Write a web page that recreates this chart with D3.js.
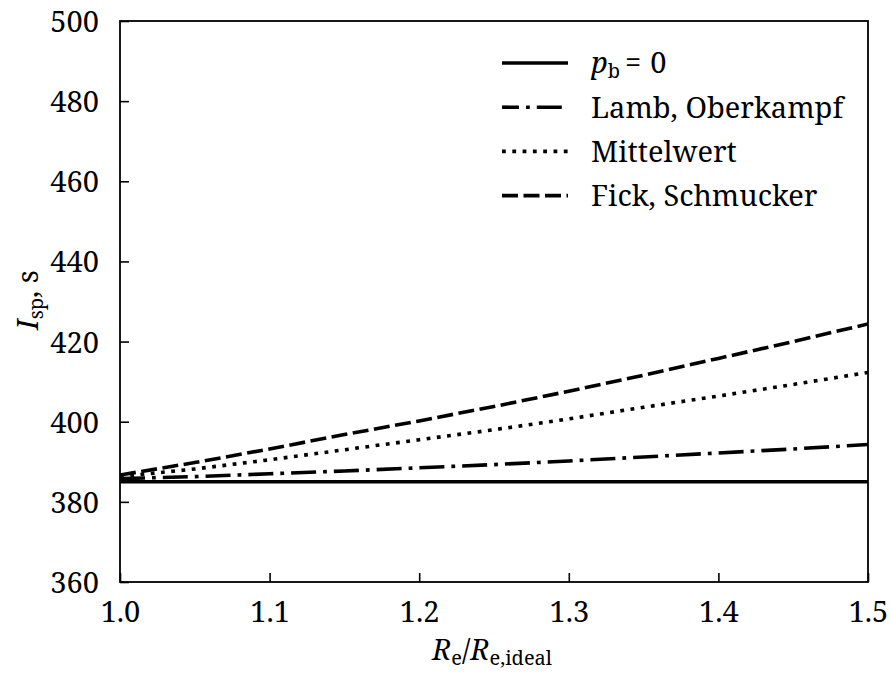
<!DOCTYPE html>
<html>
<head>
<meta charset="utf-8">
<script src="https://cdn.jsdelivr.net/npm/d3@7"></script>
<style>
  html, body { margin: 0; padding: 0; background: #fff; }
</style>
</head>
<body>
<svg id="chart" width="891" height="675"></svg>
<script>
// Area ratio R_e / R_e,ideal
const ratio = [1.00, 1.05, 1.10, 1.15, 1.20, 1.25, 1.30, 1.35, 1.40, 1.45, 1.50];

// Specific impulse (s) for each base-pressure model
const ispNoBase   = [385.0, 385.0, 385.0, 385.0, 385.0, 385.0, 385.0, 385.0, 385.0, 385.0, 385.0];
const ispLamb     = [385.8, 386.3, 387.0, 387.7, 388.5, 389.3, 390.2, 391.2, 392.2, 393.2, 394.3];
const ispMean     = [386.3, 388.2, 390.5, 393.0, 395.5, 398.0, 400.7, 403.6, 406.4, 409.3, 412.3];
const ispFick     = [386.7, 389.8, 393.2, 396.8, 400.2, 403.8, 407.6, 411.6, 415.8, 420.0, 424.4];

const xTicks = [1.0, 1.1, 1.2, 1.3, 1.4, 1.5];
const yTicks = [360, 380, 400, 420, 440, 460, 480, 500];

const series = [
  { key: "none", values: ispNoBase, dash: null,              legend: "pb" },
  { key: "lamb", values: ispLamb,   dash: "25,7,3.8,7",      legend: "Lamb, Oberkampf", legendOffset: 8 },
  { key: "mean", values: ispMean,   dash: "3.8,6.5",         legend: "Mittelwert" },
  { key: "fick", values: ispFick,   dash: "16,5.5",          legend: "Fick, Schmucker" }
];

const FONT = "'Noto Serif', 'Liberation Serif', serif";
const fontSize = 29;
const subSize = 20;
const lineW = 3.6;

const svg = d3.select("#chart");
const plotL = 120, plotR = 868, plotT = 21, plotB = 582;

const x = d3.scaleLinear().domain([1.0, 1.5]).range([plotL, plotR]);
const y = d3.scaleLinear().domain([360, 500]).range([plotB, plotT]);

// Data lines, clipped to the plot frame
svg.append("clipPath").attr("id", "plotClip")
  .append("rect").attr("x", plotL).attr("y", plotT)
  .attr("width", plotR - plotL).attr("height", plotB - plotT);

const line = d3.line().x((d, i) => x(ratio[i])).y(d => y(d));

const plot = svg.append("g").attr("clip-path", "url(#plotClip)");
series.forEach(s => {
  plot.append("path")
    .datum(s.values)
    .attr("d", line)
    .attr("fill", "none")
    .attr("stroke", "#000")
    .attr("stroke-width", lineW)
    .attr("stroke-dasharray", s.dash);
});

// Axes with inward ticks on left and bottom
const xAxis = d3.axisBottom(x).tickValues(xTicks).tickSizeInner(-9).tickSizeOuter(0)
  .tickFormat(d3.format(".1f"));
const yAxis = d3.axisLeft(y).tickValues(yTicks).tickSizeInner(-9).tickSizeOuter(0)
  .tickFormat(d3.format("d"));

const gx = svg.append("g").attr("transform", `translate(0,${plotB})`).call(xAxis);
const gy = svg.append("g").attr("transform", `translate(${plotL},0)`).call(yAxis);

[gx, gy].forEach(g => {
  g.select(".domain").remove();
  g.selectAll(".tick line").attr("stroke", "#000").attr("stroke-width", 1.6);
  g.selectAll(".tick text")
    .attr("fill", "#000")
    .style("font-family", FONT)
    .style("font-size", fontSize + "px");
});
gx.selectAll(".tick text").attr("y", 19).attr("dy", "0.71em");
gy.selectAll(".tick text").attr("x", -21).attr("dy", "0.36em");

// Frame
svg.append("rect")
  .attr("x", plotL).attr("y", plotT)
  .attr("width", plotR - plotL).attr("height", plotB - plotT)
  .attr("fill", "none").attr("stroke", "#000").attr("stroke-width", 1.8);

function styledText(sel) {
  return sel.style("font-family", FONT).style("font-size", fontSize + "px").attr("fill", "#000");
}

// Axis titles
const xl = styledText(svg.append("text"))
  .attr("x", (plotL + plotR) / 2 - 2).attr("y", 660)
  .attr("text-anchor", "middle");
xl.append("tspan").style("font-style", "italic").text("R");
xl.append("tspan").style("font-size", subSize + "px").attr("dy", 5).text("e");
xl.append("tspan").attr("dy", -5).text("/");
xl.append("tspan").style("font-style", "italic").text("R");
xl.append("tspan").style("font-size", subSize + "px").attr("dy", 5).text("e,ideal");

const yl = styledText(svg.append("text"))
  .attr("transform", "translate(38,300) rotate(-90)")
  .attr("text-anchor", "middle");
yl.append("tspan").style("font-style", "italic").text("I");
yl.append("tspan").style("font-size", subSize + "px").attr("dy", 5).text("sp");
yl.append("tspan").attr("dy", -5).text(", s");

// Legend
const legendX0 = 502, legendX1 = 568, legendTextX = 591;
const legendY0 = 63, legendStep = 44.2;
const lg = svg.append("g");
series.forEach((s, i) => {
  const yy = legendY0 + i * legendStep;
  lg.append("line")
    .attr("x1", legendX0).attr("x2", legendX1)
    .attr("y1", yy).attr("y2", yy)
    .attr("stroke", "#000").attr("stroke-width", lineW)
    .attr("stroke-dasharray", s.dash)
    .attr("stroke-dashoffset", s.legendOffset || 0);
  const t = styledText(lg.append("text"))
    .attr("x", legendTextX).attr("y", yy).attr("dy", "0.36em");
  if (s.legend === "pb") {
    t.append("tspan").style("font-style", "italic").text("p");
    t.append("tspan").style("font-size", subSize + "px").attr("dy", 5).text("b");
    t.append("tspan").attr("dy", -5).attr("dx", 5).text("=");
    t.append("tspan").attr("dx", 9).text("0");
  } else {
    t.text(s.legend);
  }
});
</script>
</body>
</html>
